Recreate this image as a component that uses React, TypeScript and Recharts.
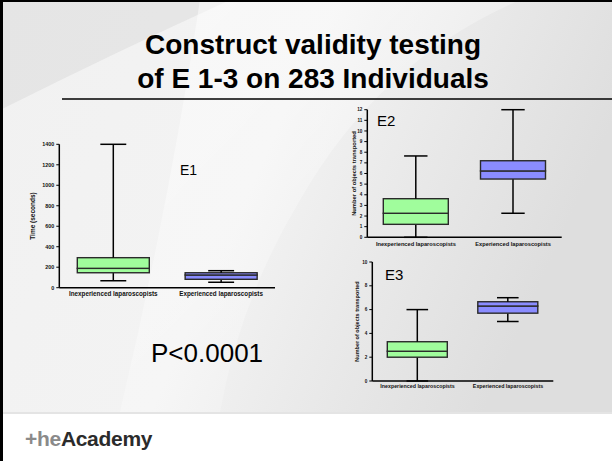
import React from 'react';
import { ComposedChart, Bar, XAxis, YAxis } from 'recharts';

const categories = ['Inexperienced laparoscopists', 'Experienced laparoscopists'];
const boxColors = ['#a0fd9c', '#8a8cff'];

// E1: time (seconds)
const e1Min = [68, 53];
const e1Q1 = [146, 82];
const e1Median = [189, 124];
const e1Q3 = [293, 146];
const e1Max = [1400, 166];
const e1Ticks = [0, 200, 400, 600, 800, 1000, 1200, 1400];

// E2: number of objects transported
const e2Min = [0, 2.26];
const e2Q1 = [1.22, 5.48];
const e2Median = [2.26, 6.24];
const e2Q3 = [3.63, 7.2];
const e2Max = [7.65, 12];
const e2Ticks = [0, 1, 2, 3, 4, 5, 6, 7, 8, 9, 10, 11, 12];

// E3: number of objects transported
const e3Min = [0, 5];
const e3Q1 = [2, 5.7];
const e3Median = [2.5, 6.3];
const e3Q3 = [3.3, 6.66];
const e3Max = [6, 7];
const e3Ticks = [0, 2, 4, 6, 8, 10];

const buildRows = (min: number[], q1: number[], med: number[], q3: number[], max: number[]) =>
  categories.map((name, i) => ({
    name,
    base: min[i],
    lower: q1[i] - min[i],
    boxLow: med[i] - q1[i],
    boxHigh: q3[i] - med[i],
    upper: max[i] - q3[i],
  }));

const whisker = (capTop: boolean) => (p: any) => {
  const cx = p.x + p.width / 2;
  const cap = p.width * 0.36;
  const cy = capTop ? p.y : p.y + p.height;
  return (
    <g>
      <line x1={cx} x2={cx} y1={p.y} y2={p.y + p.height} stroke="#000" strokeWidth={1.5} />
      <line x1={cx - cap / 2} x2={cx + cap / 2} y1={cy} y2={cy} stroke="#000" strokeWidth={1.5} />
    </g>
  );
};

const boxPart = (p: any) => (
  <rect x={p.x} y={p.y} width={p.width} height={p.height} fill={boxColors[p.index]} stroke="#2a2a2a" strokeWidth={1.4} />
);

const lowerWhisker = whisker(false);
const upperWhisker = whisker(true);

// plain one-line category tick, no wrapping
const categoryTick = (fontSize: number) => (p: any) => (
  <text x={p.x} y={p.y} dy={fontSize * 0.72} textAnchor="middle" fontSize={fontSize} fontWeight={700} fill="#111">
    {p.payload.value}
  </text>
);

type BoxChartProps = {
  rows: ReturnType<typeof buildRows>;
  left: number;
  top: number;
  width: number;
  height: number;
  margin: { top: number; right: number; bottom: number; left: number };
  yWidth: number;
  xHeight: number;
  yMax: number;
  ticks: number[];
  yLabel: string;
  labelOffset: number;
  barSize: number;
  xFont: number;
  yFont: number;
  labelFont: number;
  xGap: number;
};

function BoxChart(props: BoxChartProps) {
  const axisLine = { stroke: '#000', strokeWidth: 1.5 };
  return (
    <div style={{ position: 'absolute', left: props.left, top: props.top }}>
      <ComposedChart width={props.width} height={props.height} data={props.rows} margin={props.margin} barSize={props.barSize}>
        <XAxis
          dataKey="name"
          height={props.xHeight}
          interval={0}
          tickLine={false}
          tickSize={props.xGap}
          tickMargin={1}
          axisLine={axisLine}
          tick={categoryTick(props.xFont)}
        />
        <YAxis
          type="number"
          domain={[0, props.yMax]}
          ticks={props.ticks}
          interval={0}
          width={props.yWidth}
          tickSize={3}
          tickMargin={2}
          axisLine={axisLine}
          tickLine={{ stroke: '#000', strokeWidth: 1 }}
          tick={{ fontSize: props.yFont, fontWeight: 700, fill: '#111' }}
          label={{
            value: props.yLabel,
            angle: -90,
            position: 'insideLeft',
            offset: props.labelOffset,
            textAnchor: 'middle',
            style: { fontSize: props.labelFont, fontWeight: 700, fill: '#111', textAnchor: 'middle' },
          }}
        />
        <Bar dataKey="base" stackId="b" fill="transparent" isAnimationActive={false} />
        <Bar dataKey="lower" stackId="b" shape={lowerWhisker} isAnimationActive={false} />
        <Bar dataKey="boxLow" stackId="b" shape={boxPart} isAnimationActive={false} />
        <Bar dataKey="boxHigh" stackId="b" shape={boxPart} isAnimationActive={false} />
        <Bar dataKey="upper" stackId="b" shape={upperWhisker} isAnimationActive={false} />
      </ComposedChart>
    </div>
  );
}

export default function App() {
  const font = '"Liberation Sans", Arial, sans-serif';
  return (
    <div style={{ position: 'absolute', left: 0, top: 0, width: 612, height: 461, overflow: 'hidden', fontFamily: font, background: '#fff' }}>
      <svg width={612} height={461} style={{ position: 'absolute', left: 0, top: 0 }}>
        <defs>
          <linearGradient id="bg" x1="0" y1="0" x2="1" y2="0.3">
            <stop offset="0%" stopColor="#f1f1f1" />
            <stop offset="50%" stopColor="#f3f3f3" />
            <stop offset="100%" stopColor="#dedede" />
          </linearGradient>
          <linearGradient id="sweep" x1="0" y1="0" x2="1" y2="1">
            <stop offset="0%" stopColor="#ffffff" stopOpacity={0.9} />
            <stop offset="100%" stopColor="#ffffff" stopOpacity={0} />
          </linearGradient>
        </defs>
        <rect x={0} y={0} width={612} height={413} fill="url(#bg)" />
        <path d="M0 0 L230 0 Q120 50 0 110 Z" fill="#dadada" opacity={0.5} />
        <path d="M200 0 L520 0 Q380 60 300 200 Q240 300 220 412 L120 412 Q170 200 200 0 Z" fill="url(#sweep)" opacity={0.6} />
        <rect x={0} y={412} width={612} height={2} fill="#e4e4e4" />
        <rect x={0} y={0} width={612} height={2} fill="#000" />
        <rect x={0} y={0} width={3} height={461} fill="#000" />
        <line x1={62} x2={612} y1={99} y2={99} stroke="#000" strokeWidth={1.3} />
        <text x={313} y={54} textAnchor="middle" fontSize={28} fontWeight={700} fill="#000">
          Construct validity testing
        </text>
        <text x={313} y={88} textAnchor="middle" fontSize={28} fontWeight={700} fill="#000">
          of E 1-3 on 283 Individuals
        </text>
        <text x={180} y={175} fontSize={14} fill="#000">E1</text>
        <text x={377} y={126} fontSize={15} fill="#000">E2</text>
        <text x={385} y={280} fontSize={15} fill="#000">E3</text>
        <text x={151} y={362} fontSize={26} fill="#000">P&lt;0.0001</text>
        <text x={25} y={446} fontSize={21} fontWeight={700} letterSpacing={-0.3}>
          <tspan fill="#8a8a8a">+he</tspan>
          <tspan fill="#2b2b2b">Academy</tspan>
        </text>
      </svg>

      <BoxChart
        rows={buildRows(e1Min, e1Q1, e1Median, e1Q3, e1Max)}
        left={10}
        top={130}
        width={280}
        height={180}
        margin={{ top: 14.3, right: 15, bottom: 8, left: 9.3 }}
        yWidth={40}
        xHeight={14.3}
        yMax={1400}
        ticks={e1Ticks}
        yLabel="Time (seconds)"
        labelOffset={13.7}
        barSize={72}
        xFont={6.3}
        yFont={5.4}
        labelFont={6.5}
        xGap={2.5}
      />
      <BoxChart
        rows={buildRows(e2Min, e2Q1, e2Median, e2Q3, e2Max)}
        left={330}
        top={100}
        width={240}
        height={150}
        margin={{ top: 9.7, right: 8.3, bottom: 0.7, left: 7.3 }}
        yWidth={30}
        xHeight={12}
        yMax={12}
        ticks={e2Ticks}
        yLabel="Number of objects transported"
        labelOffset={16.2}
        barSize={65}
        xFont={5.7}
        yFont={4.6}
        labelFont={5.8}
        xGap={3.5}
      />
      <BoxChart
        rows={buildRows(e3Min, e3Q1, e3Median, e3Q3, e3Max)}
        left={330}
        top={250}
        width={235}
        height={145}
        margin={{ top: 12, right: 11.7, bottom: 2, left: 7.3 }}
        yWidth={35}
        xHeight={12}
        yMax={10}
        ticks={e3Ticks}
        yLabel="Number of objects transported"
        labelOffset={19.4}
        barSize={60}
        xFont={5.3}
        yFont={4.6}
        labelFont={5.5}
        xGap={2}
      />
    </div>
  );
}
